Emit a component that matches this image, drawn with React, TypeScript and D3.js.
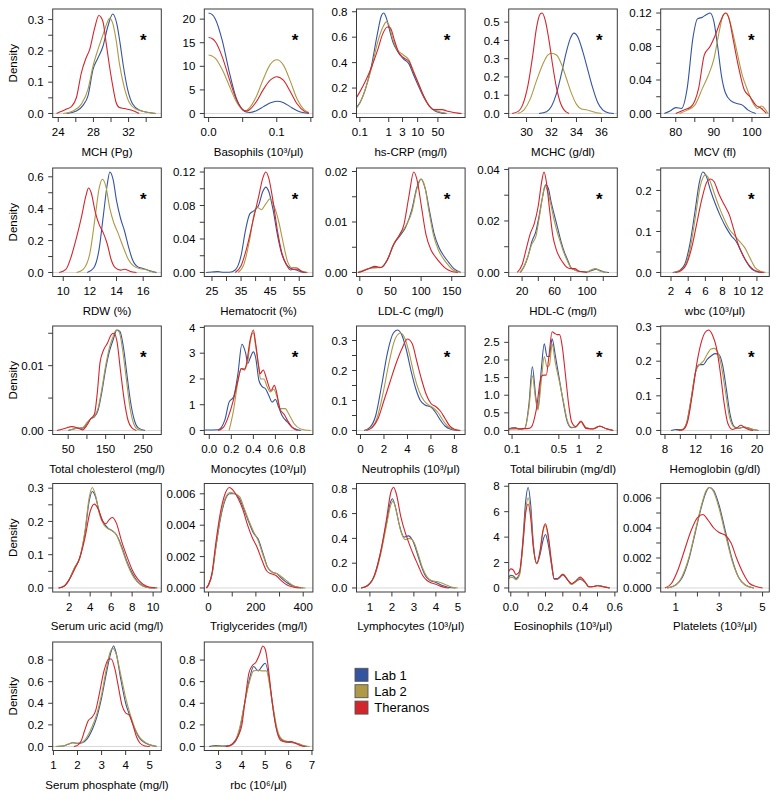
import React from 'react';
import * as d3 from 'd3';

type Pt = [number, number];

// ---------- data (x, density) ----------
// MCH
const mchLab1: Pt[] = [[24.94,0],[26.07,0.008],[26.82,0.026],[27.38,0.056],[27.95,0.14],[28.51,0.177],[29.08,0.214],[29.64,0.278],[30.2,0.318],[30.65,0.288],[31.03,0.225],[31.41,0.151],[31.89,0.077],[32.46,0.03],[33.21,0.011],[34.34,0.003],[35.09,0]];
const mchLab2: Pt[] = [[24.56,0],[25.69,0.008],[26.63,0.03],[27.38,0.077],[27.95,0.151],[28.51,0.204],[29.08,0.251],[29.53,0.288],[29.83,0.304],[30.2,0.288],[30.58,0.235],[30.95,0.161],[31.52,0.082],[32.08,0.035],[32.83,0.014],[33.96,0.005],[35.09,0]];
const mchTher: Pt[] = [[23.81,0],[24.94,0.014],[25.5,0.022],[26.07,0.051],[26.63,0.13],[27.12,0.174],[27.57,0.204],[28.14,0.273],[28.62,0.313],[29.08,0.294],[29.45,0.225],[29.83,0.151],[30.2,0.088],[30.58,0.035],[30.95,0.019],[31.52,0.016],[32.27,0.011],[33.21,0]];
// Basophils
const basLab1: Pt[] = [[0,21.3],[0.005,21],[0.01,20],[0.02,15.5],[0.03,9],[0.04,3.5],[0.05,0.8],[0.055,0.3],[0.06,0.2],[0.07,0.6],[0.08,1.4],[0.09,2.2],[0.1,2.6],[0.11,2.3],[0.12,1.4],[0.13,0.6],[0.14,0.15],[0.147,0]];
const basLab2: Pt[] = [[0,12.4],[0.005,12.2],[0.01,11.7],[0.02,9.3],[0.03,6],[0.04,2.7],[0.05,0.8],[0.055,0.6],[0.06,1.2],[0.07,3.6],[0.08,7.2],[0.09,10.3],[0.1,11.4],[0.11,10.2],[0.12,6.8],[0.13,3],[0.14,0.8],[0.147,0.2]];
const basTher: Pt[] = [[0,16.1],[0.005,15.9],[0.01,15.2],[0.02,12],[0.03,7.5],[0.04,3.2],[0.05,0.8],[0.055,0.5],[0.06,0.8],[0.07,2.5],[0.08,5],[0.09,7],[0.1,7.8],[0.11,7],[0.12,4.6],[0.13,2],[0.14,0.5],[0.147,0.1]];
// hs-CRP (log x)
const crpLab1: Pt[] = [[0.07,0.04],[0.1,0.085],[0.16,0.2],[0.25,0.37],[0.4,0.62],[0.56,0.77],[0.66,0.79],[0.83,0.75],[1,0.68],[1.4,0.56],[2,0.49],[3.2,0.43],[5,0.39],[7,0.31],[10,0.23],[16,0.13],[25,0.06],[40,0.02],[63,0.005],[100,0]];
const crpLab2: Pt[] = [[0.07,0.03],[0.1,0.08],[0.16,0.2],[0.25,0.35],[0.4,0.55],[0.63,0.68],[0.83,0.72],[1,0.7],[1.4,0.58],[2,0.5],[3.2,0.46],[5,0.42],[7,0.34],[10,0.25],[16,0.14],[25,0.06],[40,0.025],[63,0.01],[100,0]];
const crpTher: Pt[] = [[0.07,0.11],[0.1,0.17],[0.16,0.26],[0.25,0.36],[0.4,0.49],[0.63,0.63],[0.89,0.68],[1.12,0.675],[1.6,0.57],[2.2,0.48],[3.2,0.44],[5,0.41],[7,0.33],[10,0.25],[16,0.14],[25,0.06],[35,0.03],[50,0.03],[71,0.03],[100,0.02],[160,0.01],[250,0.003],[330,0]];
// MCHC
const mchcLab1: Pt[] = [[31,0],[31.6,0.01],[32,0.04],[32.4,0.11],[32.8,0.22],[33.2,0.34],[33.5,0.41],[33.8,0.44],[34.1,0.42],[34.5,0.34],[34.9,0.24],[35.3,0.14],[35.7,0.06],[36.1,0.02],[36.6,0.003],[37,0]];
const mchcLab2: Pt[] = [[29.3,0],[29.8,0.02],[30.3,0.08],[30.8,0.18],[31.3,0.27],[31.7,0.32],[32,0.33],[32.4,0.32],[32.8,0.27],[33.2,0.19],[33.6,0.11],[34,0.05],[34.4,0.025],[34.8,0.02],[35.2,0.012],[35.6,0.004],[36,0]];
const mchcTher: Pt[] = [[28.85,0],[29.3,0.01],[29.7,0.05],[30.1,0.15],[30.5,0.32],[30.8,0.47],[31.1,0.545],[31.25,0.55],[31.5,0.51],[31.8,0.4],[32.1,0.26],[32.4,0.14],[32.7,0.06],[33,0.02],[33.4,0]];
// MCV
const mcvLab1: Pt[] = [[77,0],[78.5,0.003],[80,0.007],[81.5,0.006],[83,0.03],[84.5,0.09],[85.7,0.113],[87,0.115],[88,0.118],[89,0.12],[90,0.11],[91,0.08],[92,0.045],[93,0.025],[94.5,0.015],[96,0.012],[97.5,0.01],[99,0.004],[101,0]];
const mcvLab2: Pt[] = [[81,0],[83,0.004],[85,0.01],[87,0.03],[88.5,0.045],[90,0.065],[91.5,0.1],[92.5,0.118],[93.3,0.12],[94.5,0.105],[96,0.075],[97.5,0.045],[98.5,0.032],[100,0.015],[101.5,0.006],[102.5,0.009],[103.5,0.005],[104.2,0]];
const mcvTher: Pt[] = [[80,0],[82,0.004],[84,0.008],[86,0.03],[87.5,0.07],[89,0.08],[90.5,0.095],[92,0.113],[93,0.12],[94,0.113],[95,0.09],[96.5,0.055],[98,0.028],[99.5,0.02],[101,0.01],[102.5,0.006],[103.8,0]];
// RDW
const rdwLab1: Pt[] = [[11.8,0],[12.3,0.03],[12.7,0.15],[13,0.35],[13.3,0.55],[13.5,0.63],[13.75,0.58],[14,0.45],[14.3,0.34],[14.6,0.26],[14.9,0.16],[15.2,0.08],[15.6,0.035],[16,0.025],[16.5,0.01],[17,0]];
const rdwLab2: Pt[] = [[11,0],[11.5,0.02],[12,0.12],[12.4,0.35],[12.7,0.53],[12.95,0.585],[13.2,0.54],[13.5,0.4],[13.8,0.31],[14.1,0.25],[14.5,0.16],[14.9,0.08],[15.3,0.04],[15.7,0.025],[16.1,0.02],[16.5,0.008],[16.9,0]];
const rdwTher: Pt[] = [[9.7,0],[10.2,0.02],[10.6,0.1],[11,0.22],[11.4,0.36],[11.7,0.48],[11.9,0.53],[12.1,0.5],[12.4,0.38],[12.7,0.3],[13,0.25],[13.3,0.18],[13.6,0.08],[13.9,0.03],[14.3,0.015],[14.6,0.02],[15,0.008],[15.5,0]];
// Hematocrit
const hctLab1: Pt[] = [[23,0],[25,0.0005],[27,0.001],[29,0.0003],[31,0.0002],[33,0.003],[35,0.02],[36.5,0.05],[38,0.07],[39.5,0.074],[41,0.08],[42.5,0.097],[43.5,0.102],[44.5,0.097],[46,0.075],[47.5,0.045],[49,0.022],[50.5,0.01],[52,0.005],[54,0.003],[55.5,0.001],[57,0]];
const hctLab2: Pt[] = [[34,0],[36,0.01],[38,0.04],[39.5,0.07],[40.5,0.078],[42,0.075],[43.5,0.082],[45,0.088],[46.5,0.078],[48,0.06],[49.5,0.035],[51,0.013],[52.5,0.006],[54,0.006],[55.5,0.002],[58,0]];
const hctTher: Pt[] = [[33,0],[35,0.008],[37,0.03],[39,0.06],[41,0.09],[42.5,0.113],[43.5,0.12],[44.5,0.113],[46,0.085],[47.5,0.05],[49,0.024],[50.5,0.01],[52,0.003],[53.5,0.004],[54.5,0.004],[56,0.001],[57.5,0]];
// LDL-C
const ldlLab1: Pt[] = [[-3,0],[5,0.0003],[15,0.0008],[25,0.001],[35,0.001],[45,0.0025],[55,0.0055],[65,0.0072],[75,0.009],[85,0.0125],[93,0.0168],[100,0.0185],[107,0.0165],[114,0.012],[121,0.0078],[129,0.005],[137,0.0033],[145,0.002],[153,0.0008],[165,0]];
const ldlLab2: Pt[] = [[-3,0],[5,0.0004],[15,0.0008],[25,0.0009],[35,0.001],[45,0.0025],[55,0.0055],[65,0.0075],[75,0.0092],[85,0.012],[93,0.0165],[100,0.0185],[106,0.017],[113,0.012],[120,0.0075],[128,0.0045],[136,0.0028],[144,0.0015],[152,0.0005],[165,0]];
const ldlTher: Pt[] = [[-3,0],[5,0.0003],[15,0.0008],[25,0.0012],[35,0.001],[45,0.0025],[55,0.0055],[65,0.0075],[72,0.0095],[80,0.015],[88,0.0199],[94,0.018],[100,0.0135],[108,0.0075],[116,0.0045],[124,0.003],[132,0.0018],[140,0.0008],[150,0.0002],[160,0]];
// HDL-C
const hdlLab1: Pt[] = [[18,0],[22,0.002],[27,0.006],[32,0.012],[37,0.016],[41,0.022],[45,0.029],[49,0.034],[52,0.033],[56,0.027],[60,0.022],[64,0.017],[68,0.012],[72,0.008],[76,0.005],[80,0.002],[85,0.001],[90,0.0005],[95,0.0003],[100,0.0002],[106,0.0008],[111,0.0013],[116,0.0008],[121,0.0002],[127,0]];
const hdlLab2: Pt[] = [[17,0],[22,0.002],[27,0.006],[32,0.011],[37,0.014],[41,0.021],[45,0.029],[48,0.0335],[51,0.032],[55,0.027],[59,0.021],[63,0.016],[67,0.012],[71,0.008],[75,0.005],[80,0.002],[85,0.001],[90,0.0005],[95,0.0003],[100,0.0003],[105,0.001],[110,0.0015],[115,0.0007],[120,0.0002],[125,0]];
const hdlTher: Pt[] = [[14,0],[20,0.003],[25,0.009],[30,0.015],[35,0.019],[40,0.026],[44,0.035],[47,0.039],[50,0.035],[54,0.024],[58,0.014],[62,0.009],[66,0.006],[70,0.004],[75,0.002],[80,0.0015],[85,0.0015],[90,0.0005],[95,0.0003],[100,0]];
// wbc
const wbcLab1: Pt[] = [[2.2,0],[3,0.005],[3.6,0.02],[4.2,0.07],[4.8,0.15],[5.3,0.22],[5.7,0.245],[6.1,0.235],[6.6,0.2],[7.2,0.165],[7.8,0.135],[8.4,0.11],[9,0.09],[9.6,0.075],[10.2,0.05],[10.8,0.025],[11.4,0.008],[12,0.002],[12.6,0]];
const wbcLab2: Pt[] = [[2.3,0],[3,0.004],[3.6,0.015],[4.2,0.055],[4.8,0.13],[5.4,0.21],[6,0.238],[6.5,0.225],[7,0.195],[7.6,0.16],[8.2,0.13],[8.8,0.105],[9.4,0.09],[10,0.075],[10.6,0.06],[11.2,0.035],[11.8,0.012],[12.4,0.003],[13,0]];
const wbcTher: Pt[] = [[2.5,0],[3.2,0.005],[3.8,0.02],[4.4,0.06],[5,0.12],[5.6,0.18],[6.2,0.222],[6.6,0.228],[7,0.222],[7.6,0.19],[8.2,0.165],[8.8,0.14],[9.3,0.105],[9.8,0.07],[10.4,0.04],[11,0.02],[11.6,0.007],[12.2,0.002],[12.8,0]];
// Total cholesterol
const tcLab1: Pt[] = [[50,0],[70,0.0003],[90,0.0004],[100,0.0011],[110,0.0018],[120,0.0021],[130,0.0032],[140,0.006],[150,0.0095],[160,0.0122],[170,0.014],[180,0.0155],[188,0.0153],[197,0.013],[207,0.0085],[217,0.0042],[227,0.0015],[237,0.0004],[255,0]];
const tcLab2: Pt[] = [[50,0],[70,0.0003],[90,0.0005],[100,0.0012],[110,0.0018],[120,0.0022],[130,0.0035],[140,0.0065],[150,0.01],[160,0.0128],[170,0.0145],[178,0.0155],[186,0.0152],[195,0.0125],[205,0.008],[215,0.0035],[225,0.001],[235,0.0002],[250,0]];
const tcTher: Pt[] = [[20,0],[40,0.0003],[60,0.0006],[75,0.0004],[88,0.0001],[100,0.0008],[110,0.0018],[120,0.0025],[128,0.006],[135,0.0105],[145,0.0125],[155,0.0135],[165,0.0148],[172,0.015],[180,0.0138],[190,0.009],[200,0.0045],[210,0.0015],[220,0.0004],[232,0]];
// Monocytes
const monoLab1: Pt[] = [[-0.04,0.02],[0.08,0.03],[0.14,0.39],[0.18,1.1],[0.22,1.3],[0.26,2.2],[0.296,3.35],[0.33,3],[0.35,2.6],[0.37,2.8],[0.4,3.05],[0.42,2.85],[0.45,1.95],[0.48,1.7],[0.51,1.62],[0.54,1.36],[0.57,1.1],[0.6,1.2],[0.63,0.9],[0.66,0.58],[0.71,0.32],[0.75,0.13],[0.8,0.03],[0.83,0]];
const monoLab2: Pt[] = [[0.18,0],[0.22,0.78],[0.26,1.9],[0.29,2.4],[0.32,2.4],[0.35,2.7],[0.37,3.4],[0.4,3.8],[0.42,3.3],[0.45,2.4],[0.465,2],[0.495,2],[0.525,1.7],[0.555,1.5],[0.585,1.6],[0.615,1.3],[0.645,0.85],[0.69,0.85],[0.72,0.65],[0.77,0.26],[0.83,0.06],[0.92,0]];
const monoTher: Pt[] = [[0.08,0],[0.13,0.13],[0.17,0.5],[0.22,1.2],[0.26,1.95],[0.29,2.4],[0.32,2.35],[0.34,2.65],[0.37,3.5],[0.4,3.9],[0.42,3.4],[0.45,2.45],[0.46,2.2],[0.49,2.35],[0.52,2],[0.56,1.55],[0.59,1.75],[0.61,1.5],[0.64,0.85],[0.68,0.62],[0.71,0.39],[0.75,0.13],[0.8,0]];
// Neutrophils
const neuLab1: Pt[] = [[0.3,0],[0.8,0.01],[1.3,0.05],[1.8,0.15],[2.3,0.26],[2.8,0.325],[3.15,0.335],[3.5,0.32],[3.9,0.27],[4.3,0.2],[4.7,0.14],[5.1,0.1],[5.5,0.085],[6,0.078],[6.4,0.06],[6.8,0.035],[7.2,0.015],[7.7,0.004],[8.3,0]];
const neuLab2: Pt[] = [[0.4,0],[0.9,0.008],[1.4,0.04],[1.9,0.12],[2.4,0.22],[2.9,0.3],[3.4,0.325],[3.8,0.305],[4.2,0.25],[4.6,0.18],[5,0.13],[5.4,0.1],[5.8,0.085],[6.2,0.075],[6.6,0.06],[7,0.035],[7.4,0.015],[7.9,0.004],[8.5,0]];
const neuTher: Pt[] = [[0.5,0],[1,0.01],[1.5,0.04],[2,0.1],[2.5,0.16],[3,0.22],[3.5,0.27],[4,0.305],[4.4,0.29],[4.8,0.23],[5.2,0.17],[5.6,0.12],[6,0.09],[6.4,0.08],[6.8,0.065],[7.2,0.04],[7.6,0.015],[8,0.004],[8.5,0]];
// Total bilirubin (log x)
const tbLab1: Pt[] = [[0.089,0.05],[0.11,0.08],[0.132,0.03],[0.155,0.06],[0.179,0.76],[0.201,1.81],[0.226,0.95],[0.243,0.62],[0.273,1.72],[0.303,2.46],[0.333,2.1],[0.361,2.1],[0.396,2.6],[0.445,2.1],[0.501,1.53],[0.575,0.86],[0.67,0.24],[0.771,0.08],[0.895,0.1],[1.067,0.24],[1.27,0.08],[1.607,0.05],[2.03,0.12],[2.56,0.05],[3.24,0]];
const tbLab2: Pt[] = [[0.089,0.04],[0.11,0.07],[0.132,0.03],[0.155,0.06],[0.179,0.65],[0.201,1.55],[0.226,0.85],[0.243,0.58],[0.273,1.4],[0.303,2.1],[0.333,1.8],[0.361,1.85],[0.396,2.45],[0.445,1.9],[0.501,1.45],[0.575,0.9],[0.67,0.28],[0.771,0.09],[0.895,0.1],[1.067,0.24],[1.27,0.08],[1.607,0.05],[2.03,0.12],[2.56,0.05],[3.24,0]];
const tbTher: Pt[] = [[0.089,0.04],[0.126,0.05],[0.178,0.06],[0.195,0.1],[0.229,0.57],[0.273,1.53],[0.295,1.57],[0.324,1.57],[0.355,2.1],[0.396,2.8],[0.435,2.75],[0.471,2.72],[0.513,2.72],[0.562,2.38],[0.631,1.53],[0.708,0.67],[0.776,0.24],[0.895,0.11],[1.067,0.27],[1.27,0.06],[1.607,0.04],[2.03,0.12],[2.56,0.05],[3.24,0]];
// Hemoglobin
const hgbLab1: Pt[] = [[8.8,0],[9.5,0.003],[10.2,0.002],[10.8,0.02],[11.4,0.09],[12,0.17],[12.5,0.19],[13,0.19],[13.5,0.205],[14,0.215],[14.5,0.222],[15,0.22],[15.5,0.19],[16,0.12],[16.5,0.045],[17,0.012],[17.6,0.006],[18.3,0.01],[19,0.006],[19.6,0.002],[20.2,0]];
const hgbLab2: Pt[] = [[9.5,0],[10.2,0.002],[10.8,0.02],[11.4,0.09],[12,0.17],[12.5,0.19],[13,0.2],[13.5,0.22],[14,0.235],[14.4,0.237],[14.9,0.225],[15.4,0.18],[15.9,0.11],[16.4,0.04],[16.9,0.012],[17.5,0.006],[18.2,0.01],[18.9,0.007],[19.6,0.002],[20.2,0]];
const hgbTher: Pt[] = [[9.8,0],[10.4,0.003],[11,0.03],[11.6,0.11],[12.2,0.2],[12.8,0.26],[13.3,0.285],[13.7,0.29],[14.2,0.275],[14.7,0.24],[15.2,0.17],[15.7,0.08],[16.2,0.02],[16.8,0.003],[17.4,0.008],[17.9,0.015],[18.4,0.008],[19,0.002],[19.5,0]];
// Serum uric acid
const uaLab1: Pt[] = [[1,0],[1.5,0.005],[2,0.025],[2.5,0.06],[3,0.09],[3.5,0.165],[3.9,0.26],[4.2,0.29],[4.5,0.275],[4.9,0.225],[5.3,0.195],[5.7,0.18],[6.1,0.172],[6.5,0.16],[7,0.125],[7.5,0.08],[8,0.045],[8.5,0.02],[9,0.007],[9.6,0.001],[10.2,0]];
const uaLab2: Pt[] = [[1,0],[1.5,0.005],[2,0.025],[2.5,0.06],[3,0.09],[3.5,0.17],[3.9,0.27],[4.2,0.302],[4.5,0.28],[4.9,0.22],[5.3,0.19],[5.7,0.178],[6.1,0.172],[6.5,0.16],[7,0.12],[7.5,0.075],[8,0.04],[8.5,0.018],[9,0.006],[9.6,0.001],[10.2,0]];
const uaTher: Pt[] = [[1,0],[1.5,0.005],[2,0.025],[2.5,0.055],[3,0.09],[3.5,0.15],[4,0.23],[4.4,0.252],[4.8,0.235],[5.2,0.2],[5.5,0.193],[5.8,0.205],[6.1,0.212],[6.5,0.195],[7,0.14],[7.5,0.095],[8,0.055],[8.5,0.028],[9,0.012],[9.6,0.003],[10.4,0]];
// Triglycerides
const tgLab1: Pt[] = [[-8,0],[0,0.0002],[15,0.0009],[30,0.0025],[50,0.0044],[70,0.0056],[90,0.006],[110,0.006],[130,0.0057],[150,0.005],[170,0.0042],[190,0.0035],[210,0.0031],[230,0.0022],[250,0.0013],[270,0.001],[290,0.0009],[310,0.0006],[335,0.0003],[365,0.0001],[400,0]];
const tgLab2: Pt[] = [[-8,0],[0,0.0002],[15,0.0009],[30,0.0025],[50,0.0045],[70,0.0057],[92,0.0061],[112,0.006],[132,0.0058],[150,0.0051],[170,0.0043],[190,0.0036],[210,0.003],[230,0.0021],[250,0.0013],[270,0.001],[290,0.0009],[310,0.0007],[335,0.0004],[365,0.0001],[410,0]];
const tgTher: Pt[] = [[-10,0],[0,0.0002],[15,0.001],[30,0.0028],[50,0.0048],[70,0.006],[88,0.0064],[105,0.0062],[125,0.0057],[145,0.005],[165,0.004],[185,0.0032],[205,0.0026],[225,0.0018],[245,0.0011],[265,0.0009],[285,0.0008],[305,0.0005],[330,0.0002],[360,0.00005],[390,0]];
// Lymphocytes
const lymLab1: Pt[] = [[0.6,0],[0.9,0.02],[1.2,0.1],[1.5,0.3],[1.75,0.52],[1.95,0.7],[2.02,0.72],[2.15,0.66],[2.35,0.5],[2.55,0.41],[2.75,0.42],[2.95,0.38],[3.15,0.28],[3.35,0.17],[3.55,0.09],[3.75,0.06],[4,0.045],[4.3,0.02],[4.6,0.004],[4.9,0]];
const lymLab2: Pt[] = [[0.6,0],[0.9,0.02],[1.2,0.09],[1.5,0.28],[1.75,0.5],[1.95,0.67],[2.05,0.7],[2.2,0.62],[2.4,0.46],[2.6,0.39],[2.8,0.4],[3,0.37],[3.2,0.27],[3.4,0.16],[3.6,0.09],[3.8,0.06],[4.1,0.05],[4.4,0.03],[4.7,0.008],[5,0]];
const lymTher: Pt[] = [[0.6,0],[0.9,0.02],[1.2,0.1],[1.5,0.3],[1.75,0.55],[1.95,0.77],[2.08,0.81],[2.2,0.76],[2.4,0.58],[2.6,0.45],[2.8,0.35],[3,0.26],[3.2,0.18],[3.4,0.1],[3.6,0.06],[3.8,0.04],[4,0.03],[4.2,0.015],[4.4,0.004],[4.6,0]];
// Eosinophils
const eosLab1: Pt[] = [[-0.012,0.85],[0,1],[0.015,0.95],[0.03,0.75],[0.05,1.1],[0.07,3.8],[0.085,6.7],[0.1,7.9],[0.115,6.5],[0.13,3.5],[0.15,1.9],[0.17,2.7],[0.185,3.7],[0.2,4.2],[0.215,3.5],[0.235,1.8],[0.25,0.7],[0.27,0.7],[0.3,1.05],[0.33,0.6],[0.35,0.3],[0.37,0.45],[0.4,0.7],[0.43,0.4],[0.45,0.1],[0.48,0.12],[0.5,0.2],[0.53,0.12],[0.57,0]];
const eosLab2: Pt[] = [[-0.012,0.7],[0,0.85],[0.015,0.8],[0.03,0.65],[0.05,1],[0.07,3.4],[0.085,6],[0.1,7.1],[0.115,5.9],[0.13,3.3],[0.15,1.9],[0.17,3],[0.185,4.4],[0.2,4.9],[0.215,4.1],[0.235,2],[0.25,0.75],[0.27,0.75],[0.3,1.1],[0.33,0.6],[0.35,0.3],[0.37,0.45],[0.4,0.75],[0.43,0.4],[0.45,0.1],[0.48,0.12],[0.5,0.2],[0.53,0.12],[0.57,0]];
const eosTher: Pt[] = [[-0.012,1.3],[0,1.5],[0.015,1.4],[0.03,1.05],[0.05,1.3],[0.07,3.5],[0.085,5.8],[0.1,6.6],[0.115,5.5],[0.13,3.2],[0.15,1.95],[0.17,3],[0.185,4.5],[0.2,5.05],[0.215,4.2],[0.235,2],[0.25,0.75],[0.27,0.75],[0.3,1.05],[0.33,0.6],[0.35,0.35],[0.37,0.5],[0.4,0.85],[0.43,0.45],[0.45,0.1],[0.48,0.12],[0.5,0.18],[0.53,0.1],[0.57,0]];
// Platelets
const pltLab1: Pt[] = [[0.6,0],[1,0.0002],[1.3,0.0007],[1.6,0.0019],[1.9,0.0037],[2.2,0.0055],[2.4,0.0064],[2.55,0.0067],[2.75,0.0065],[3,0.0055],[3.3,0.0037],[3.6,0.0019],[3.9,0.0007],[4.2,0.0002],[4.6,0]];
const pltLab2: Pt[] = [[0.6,0],[1,0.0002],[1.3,0.0008],[1.6,0.002],[1.9,0.0038],[2.2,0.0056],[2.4,0.0065],[2.55,0.0067],[2.75,0.0064],[3,0.0053],[3.3,0.0035],[3.6,0.0018],[3.9,0.0007],[4.2,0.0002],[4.6,0]];
const pltTher: Pt[] = [[0.5,0],[0.8,0.0003],[1.1,0.0012],[1.4,0.0025],[1.7,0.0038],[2,0.0047],[2.25,0.0049],[2.5,0.0045],[2.75,0.004],[3,0.0037],[3.3,0.0035],[3.55,0.003],[3.8,0.002],[4.1,0.001],[4.4,0.0003],[4.7,0.0001],[5,0]];
// Serum phosphate
const phLab1: Pt[] = [[1.1,0],[1.4,0.005],[1.6,0.02],[1.8,0.035],[2,0.03],[2.2,0.035],[2.4,0.07],[2.6,0.15],[2.8,0.27],[3,0.45],[3.2,0.68],[3.4,0.88],[3.5,0.93],[3.6,0.87],[3.8,0.62],[4,0.4],[4.2,0.27],[4.4,0.15],[4.6,0.07],[4.8,0.035],[5,0.015],[5.3,0]];
const phLab2: Pt[] = [[1.1,0],[1.4,0.005],[1.6,0.02],[1.8,0.035],[2,0.03],[2.2,0.04],[2.4,0.09],[2.6,0.18],[2.8,0.3],[3,0.48],[3.2,0.72],[3.35,0.87],[3.45,0.91],[3.6,0.86],[3.8,0.66],[4,0.45],[4.2,0.29],[4.4,0.16],[4.6,0.08],[4.8,0.04],[5,0.015],[5.3,0]];
const phTher: Pt[] = [[1.85,0],[2,0.01],[2.15,0.05],[2.3,0.15],[2.45,0.24],[2.6,0.27],[2.75,0.33],[2.9,0.48],[3.1,0.7],[3.3,0.81],[3.4,0.81],[3.55,0.72],[3.7,0.55],[3.85,0.38],[4,0.31],[4.15,0.29],[4.3,0.2],[4.45,0.09],[4.6,0.03],[4.8,0.005],[5,0]];
// rbc
const rbcLab1: Pt[] = [[2.6,0],[2.9,0.008],[3.2,0.003],[3.5,0.01],[3.7,0.04],[3.9,0.15],[4.1,0.38],[4.3,0.6],[4.5,0.74],[4.7,0.7],[4.85,0.74],[5,0.77],[5.15,0.65],[5.3,0.4],[5.45,0.2],[5.6,0.09],[5.8,0.05],[6,0.04],[6.2,0.035],[6.4,0.025],[6.6,0.008],[6.8,0]];
const rbcLab2: Pt[] = [[2.7,0],[3,0.003],[3.3,0.002],[3.5,0.01],[3.7,0.05],[3.9,0.17],[4.1,0.38],[4.3,0.58],[4.5,0.7],[4.7,0.705],[4.9,0.7],[5.05,0.7],[5.2,0.55],[5.35,0.35],[5.5,0.17],[5.7,0.07],[5.9,0.05],[6.1,0.04],[6.3,0.035],[6.5,0.02],[6.7,0.005],[6.9,0]];
const rbcTher: Pt[] = [[3.3,0],[3.5,0.01],[3.7,0.05],[3.85,0.1],[4,0.2],[4.15,0.45],[4.3,0.68],[4.45,0.75],[4.6,0.78],[4.75,0.85],[4.9,0.93],[5,0.9],[5.1,0.78],[5.25,0.5],[5.4,0.25],[5.55,0.1],[5.7,0.05],[5.9,0.04],[6.1,0.045],[6.3,0.03],[6.5,0.01],[6.7,0]];

const seriesNames = ['Lab 1', 'Lab 2', 'Theranos'];
const seriesColors = ['#34549f', '#ad9946', '#d3262c'];

const titles = [
  'MCH (Pg)', 'Basophils (10³/μl)', 'hs-CRP (mg/l)', 'MCHC (g/dl)', 'MCV (fl)',
  'RDW (%)', 'Hematocrit (%)', 'LDL-C (mg/l)', 'HDL-C (mg/l)', 'wbc (10³/μl)',
  'Total cholesterol (mg/l)', 'Monocytes (10³/μl)', 'Neutrophils (10³/μl)', 'Total bilirubin (mg/dl)', 'Hemoglobin (g/dl)',
  'Serum uric acid (mg/l)', 'Triglycerides (mg/l)', 'Lymphocytes (10³/μl)', 'Eosinophils (10³/μl)', 'Platelets (10³/μl)',
  'Serum phosphate (mg/l)', 'rbc (10⁶/μl)',
];
const xDomains: [number, number][] = [
  [23.37, 35.72], [-0.0063, 0.153], [0.0767, 436.5], [28.57, 37.27], [76.05, 104.55],
  [9.21, 17.36], [22.36, 59.7], [-5.4, 171.8], [3.5, 137.3], [0.8, 13.44],
  [8.7, 298.4], [-0.045, 0.94], [-0.34, 8.91], [0.0891, 3.73], [7.44, 21.6],
  [0.43, 10.78], [-18, 441], [0.39, 5.33], [-0.012, 0.614], [0.307, 5.31],
  [0.97, 5.48], [2.39, 7.04],
];
const logX = [false, false, true, false, false, false, false, false, false, false, false, false, false, true, false, false, false, false, false, false, false, false];
const yMaxes = [0.321, 21.3, 0.79, 0.55, 0.12, 0.63, 0.12, 0.0199, 0.039, 0.245, 0.0155, 3.9, 0.335, 2.85, 0.29, 0.302, 0.0064, 0.81, 7.9, 0.0067, 0.93, 0.93];
const xTicks: number[][] = [
  [24, 28, 32], [0, 0.1], [0.1, 1, 3, 10, 50], [30, 32, 34, 36], [80, 90, 100],
  [10, 12, 14, 16], [25, 35, 45, 55], [0, 50, 100, 150], [20, 60, 100], [2, 4, 6, 8, 10, 12],
  [50, 150, 250], [0, 0.2, 0.4, 0.6, 0.8], [0, 2, 4, 6, 8], [0.1, 0.5, 1, 2], [8, 12, 16, 20],
  [2, 4, 6, 8, 10], [0, 200, 400], [1, 2, 3, 4, 5], [0, 0.2, 0.4, 0.6], [1, 3, 5],
  [1, 2, 3, 4, 5], [3, 4, 5, 6, 7],
];
const xMinor: number[][] = [
  [26, 30, 34], [0.05, 0.15], [], [], [85, 95],
  [], [30, 40, 50], [], [40, 80, 120], [],
  [100, 200], [], [], [], [10, 14, 18],
  [], [100, 300], [], [0.1, 0.3, 0.5], [2, 4],
  [], [],
];
const xFormats = ['d', '.1f', '~g', 'd', 'd', 'd', 'd', 'd', 'd', 'd', 'd', '.1f', 'd', '~g', 'd', 'd', 'd', 'd', '.1f', 'd', 'd', 'd'];
const yTicks: number[][] = [
  [0, 0.1, 0.2, 0.3], [0, 5, 10, 15, 20], [0, 0.2, 0.4, 0.6, 0.8], [0, 0.1, 0.2, 0.3, 0.4, 0.5], [0, 0.04, 0.08, 0.12],
  [0, 0.2, 0.4, 0.6], [0, 0.04, 0.08, 0.12], [0, 0.01, 0.02], [0, 0.02, 0.04], [0, 0.1, 0.2],
  [0, 0.01], [0, 1, 2, 3, 4], [0, 0.1, 0.2, 0.3], [0, 0.5, 1, 1.5, 2, 2.5], [0, 0.1, 0.2, 0.3],
  [0, 0.1, 0.2, 0.3], [0, 0.002, 0.004, 0.006], [0, 0.2, 0.4, 0.6, 0.8], [0, 2, 4, 6, 8], [0, 0.002, 0.004, 0.006],
  [0, 0.2, 0.4, 0.6, 0.8], [0, 0.2, 0.4, 0.6, 0.8],
];
const yMinor: number[][] = [
  [0.05, 0.15, 0.25], [], [], [], [0.02, 0.06, 0.1],
  [0.1, 0.3, 0.5], [0.02, 0.06, 0.1], [0.005, 0.015], [0.01, 0.03], [0.05, 0.15, 0.25],
  [0.005, 0.015], [], [0.05, 0.15, 0.25], [], [0.05, 0.15, 0.25],
  [0.05, 0.15, 0.25], [0.001, 0.003, 0.005], [], [], [0.001, 0.003, 0.005],
  [], [],
];
const yFormats = ['.1f', 'd', '.1f', '.1f', '.2f', '.1f', '.2f', '.2f', '.2f', '.1f', '.2f', 'd', '.1f', '.1f', '.1f', '.1f', '.3f', '.1f', 'd', '.3f', '.1f', '.1f'];
const starred = [true, true, true, true, true, true, true, true, true, true, true, true, true, true, true, false, false, false, false, false, false, false];
const curves: Pt[][][] = [
  [mchLab1, mchLab2, mchTher], [basLab1, basLab2, basTher], [crpLab1, crpLab2, crpTher], [mchcLab1, mchcLab2, mchcTher], [mcvLab1, mcvLab2, mcvTher],
  [rdwLab1, rdwLab2, rdwTher], [hctLab1, hctLab2, hctTher], [ldlLab1, ldlLab2, ldlTher], [hdlLab1, hdlLab2, hdlTher], [wbcLab1, wbcLab2, wbcTher],
  [tcLab1, tcLab2, tcTher], [monoLab1, monoLab2, monoTher], [neuLab1, neuLab2, neuTher], [tbLab1, tbLab2, tbTher], [hgbLab1, hgbLab2, hgbTher],
  [uaLab1, uaLab2, uaTher], [tgLab1, tgLab2, tgTher], [lymLab1, lymLab2, lymTher], [eosLab1, eosLab2, eosTher], [pltLab1, pltLab2, pltTher],
  [phLab1, phLab2, phTher], [rbcLab1, rbcLab2, rbcTher],
];

// ---------- layout ----------
const W = 777;
const H = 803;
const colLeft = [52.7, 204.3, 356.5, 508.7, 660.7];
const rowTop = [9, 168, 326, 483.5, 642];
const BW = 108.6;
const BH = 108.5;
const FONT = '"Liberation Sans", Arial, Helvetica, sans-serif';
const FS = 11.5;
const AXIS = '#3a3a3a';

function Panel({ i }: { i: number }) {
  const left = colLeft[i % 5];
  const top = rowTop[Math.floor(i / 5)];
  const x = logX[i]
    ? d3.scaleLog().domain(xDomains[i]).range([left, left + BW])
    : d3.scaleLinear().domain(xDomains[i]).range([left, left + BW]);
  const m = yMaxes[i];
  const y = d3.scaleLinear().domain([-0.04 * m, 1.04 * m]).range([top + BH, top]);
  const line = d3
    .line<Pt>()
    .x((d) => x(d[0]))
    .y((d) => y(d[1]))
    .curve(d3.curveMonotoneX);
  const xf = d3.format(xFormats[i]);
  const yf = d3.format(yFormats[i]);
  const bottom = top + BH;
  const clipId = `clip-${i}`;
  const TL = 4.5;
  return (
    <g>
      <defs>
        <clipPath id={clipId}>
          <rect x={left} y={top} width={BW} height={BH} />
        </clipPath>
      </defs>
      <line x1={left} x2={left + BW} y1={y(0)} y2={y(0)} stroke="#d4d4d4" strokeWidth={0.9} />
      <g clipPath={`url(#${clipId})`}>
        {curves[i].map((c, k) => (
          <path key={k} d={line(c) || ''} fill="none" stroke={seriesColors[k]} strokeWidth={1.1} />
        ))}
      </g>
      <rect x={left} y={top} width={BW} height={BH} fill="none" stroke={AXIS} strokeWidth={1} />
      {/* x ticks */}
      {[...xTicks[i], ...xMinor[i]].map((t, k) => (
        <line key={`xt${k}`} x1={x(t)} x2={x(t)} y1={bottom} y2={bottom + TL} stroke={AXIS} strokeWidth={1} />
      ))}
      {xTicks[i].map((t, k) => (
        <text key={`xl${k}`} x={x(t)} y={bottom + 18.7} textAnchor="middle" fontSize={FS} fontFamily={FONT} fill="#000">
          {xf(t)}
        </text>
      ))}
      {/* y ticks */}
      {[...yTicks[i], ...yMinor[i]].map((t, k) => (
        <line key={`yt${k}`} x1={left - TL} x2={left} y1={y(t)} y2={y(t)} stroke={AXIS} strokeWidth={1} />
      ))}
      {yTicks[i].map((t, k) => (
        <text key={`yl${k}`} x={left - 9} y={y(t)} dy="0.36em" textAnchor="end" fontSize={FS} fontFamily={FONT} fill="#000">
          {yf(t)}
        </text>
      ))}
      <text x={left + BW / 2} y={bottom + 38} textAnchor="middle" fontSize={FS} fontFamily={FONT} fill="#000">
        {titles[i]}
      </text>
      {i % 5 === 0 && (
        <text
          transform={`translate(16.5, ${top + BH / 2}) rotate(-90)`}
          textAnchor="middle"
          fontSize={FS}
          fontFamily={FONT}
          fill="#000"
        >
          Density
        </text>
      )}
      {starred[i] && (
        <text x={left + 0.835 * BW} y={top + 37} textAnchor="middle" fontSize={17} fontWeight="bold" fontFamily={FONT} fill="#000">
          *
        </text>
      )}
    </g>
  );
}

export default function App() {
  return (
    <svg width={W} height={H} style={{ position: 'absolute', left: 0, top: 0, background: '#fff' }}>
      <rect x={0} y={0} width={W} height={H} fill="#fff" />
      {titles.map((_, i) => (
        <Panel key={i} i={i} />
      ))}
      <g>
        {seriesNames.map((n, k) => (
          <g key={n}>
            <rect x={355} y={668.3 + k * 16.4} width={13} height={13} fill={seriesColors[k]} stroke="#555" strokeWidth={0.9} />
            <text x={374.3} y={668.3 + k * 16.4 + 11.2} fontSize={13} fontFamily={FONT} fill="#000">
              {n}
            </text>
          </g>
        ))}
      </g>
    </svg>
  );
}
